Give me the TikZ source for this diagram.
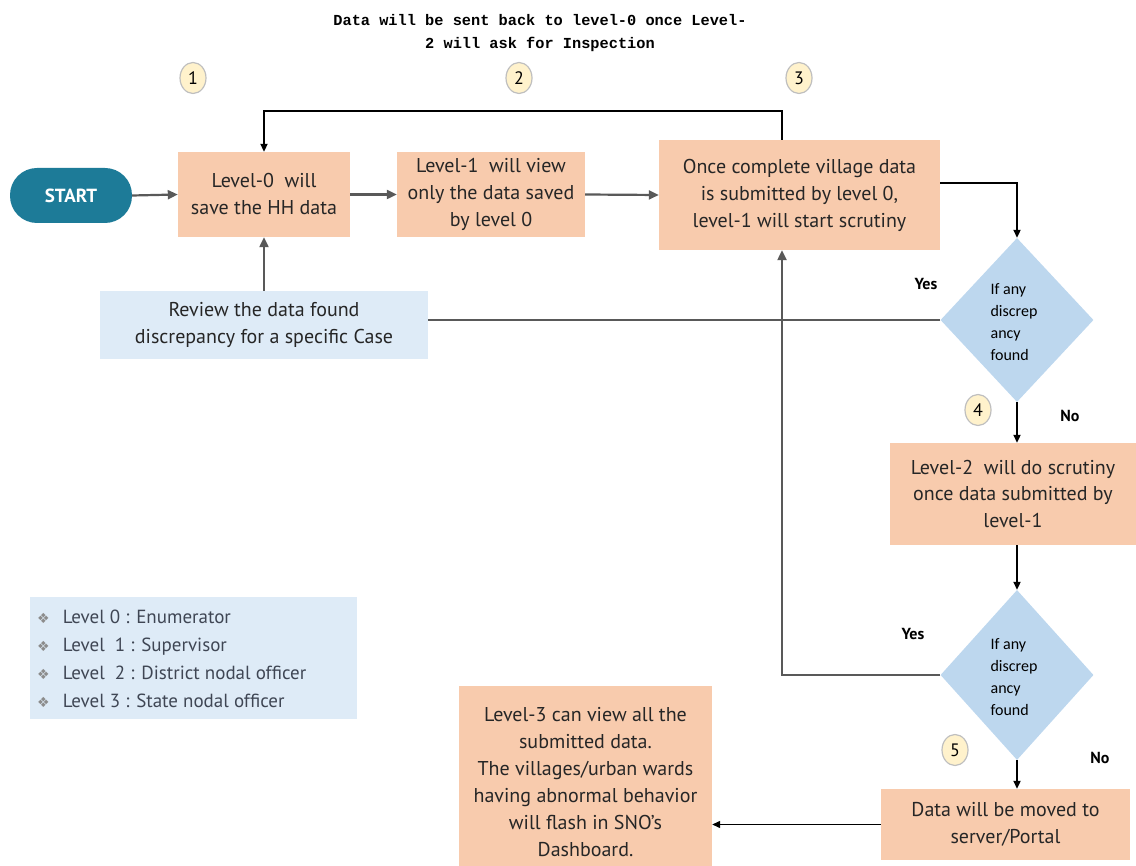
\documentclass[tikz,border=0pt]{standalone}
\usepackage{fontspec}
\setmainfont{PT Sans}
\newfontfamily\diafont{Carlito}
\newfontfamily\titlefont{Liberation Mono}
\newfontfamily\symfont{DejaVu Sans}
\usepackage{tikz}
\usetikzlibrary{shapes.geometric,arrows.meta}

\definecolor{peach}{HTML}{F8CBAD}
\definecolor{paleblue}{HTML}{DEEBF7}
\definecolor{diablue}{HTML}{BDD7EE}
\definecolor{startteal}{HTML}{1D7B98}
\definecolor{numyellow}{HTML}{FFF2CC}
\definecolor{linegray}{HTML}{595959}
\definecolor{legendtxt}{HTML}{3F4654}

\tikzset{
  stepbox/.style={fill=peach, inner sep=0pt, align=center, text=black!85,
    font=\fontsize{20}{27}\selectfont},
  notebox/.style={fill=paleblue, inner sep=0pt, align=center, text=black!85,
    font=\fontsize{20}{27}\selectfont},
  startnode/.style={fill=startteal, rounded corners=27pt, inner sep=0pt, text=white,
    font=\fontsize{19}{23}\selectfont\bfseries},
  decision/.style={diamond, fill=diablue, inner sep=0pt, aspect=0.93},
  diatext/.style={align=left, inner sep=0pt, font=\diafont\fontsize{16}{22}\selectfont},
  numc/.style={ellipse, fill=numyellow, draw=black!25, line width=1.2pt, inner sep=0pt,
    minimum width=26pt, minimum height=31pt, font=\fontsize{18}{18}\selectfont},
  yesno/.style={inner sep=0pt, font=\fontsize{16}{16}\selectfont\bfseries},
  arr/.style={draw=linegray, line width=2.2pt, -{Triangle[length=10pt,width=9pt]}},
  arrblk/.style={draw=black, line width=2pt, -{Triangle[length=8pt,width=7pt]}},
  plain/.style={draw=linegray, line width=2.2pt}
}
\newcommand{\legbul}{{\color{black!45}\symfont\fontsize{14}{14}\selectfont ❖}\hspace{13pt}}

\begin{document}
\begin{tikzpicture}[x=1pt,y=1pt,yscale=-1]
    \useasboundingbox (0,0) rectangle (1136,866);

    % Text Node
    \node (title) at (540,33) [align=center, inner sep=0pt,
      font=\titlefont\bfseries\fontsize{15.3}{23}\selectfont]
      {Data will be sent back to level-0 once Level-\\2 will ask for Inspection};

    % Numbers
    \node[numc] (n1) at (193,78) {1};
    \node[numc] (n2) at (519,78) {2};
    \node[numc] (n3) at (799,78) {3};
    \node[numc] (n4) at (978,410) {4};
    \node[numc] (n5) at (955,750) {5};

    % Shapes
    \node[startnode, minimum width=122pt, minimum height=55pt] (start) at (71,195.5) {START};
    \node[stepbox, minimum width=172pt, minimum height=85pt] (lvl0) at (264,194.5)
      {Level-0\ \ will\\save the HH data};
    \node[stepbox, minimum width=188pt, minimum height=85pt] (lvl1) at (491,194.5)
      {Level-1\ \ will view\\only the data saved\\by level 0};
    \node[stepbox, minimum width=281pt, minimum height=110pt] (scrut) at (799.5,195)
      {Once complete village data\\is submitted by level 0,\\level-1 will start scrutiny};
    \node[notebox, minimum width=328pt, minimum height=68pt] (review) at (264,325)
      {Review the data found\\discrepancy for a specific Case};
    \node[decision, minimum width=153pt, minimum height=164pt] (dia1) at (1017,320) {};
    \node[diatext] (dia1txt) at (1014,322) {If any\\discrep\\ancy\\found};
    \node[stepbox, minimum width=246pt, minimum height=102pt] (lvl2) at (1013,494)
      {Level-2\ \ will do scrutiny\\once data submitted by\\level-1};
    \node[decision, minimum width=153pt, minimum height=170pt] (dia2) at (1017,675) {};
    \node[diatext] (dia2txt) at (1014,677) {If any\\discrep\\ancy\\found};
    \node[stepbox, minimum width=249pt, minimum height=71pt] (server) at (1005.5,824.5)
      {Data will be moved to\\server/Portal};
    \node[stepbox, minimum width=253pt, minimum height=192pt] (lvl3) at (585.5,782)
      {Level-3 can view all the\\submitted data.\\The villages/urban wards\\having abnormal behavior\\will flash in SNO's\\Dashboard.};

    % Legend
    \node[fill=paleblue, minimum width=327pt, minimum height=122pt, inner sep=0pt] (legend) at (193.5,658) {};
    \node[anchor=west, align=left, inner sep=0pt, text=legendtxt,
      font=\fontsize{19}{28}\selectfont] (legendtxt) at (37,659)
      {\legbul Level 0 : Enumerator\\
       \legbul Level\ \ 1 : Supervisor\\
       \legbul Level\ \ 2 : District nodal officer\\
       \legbul Level 3 : State nodal officer};

    % Text Node
    \node[yesno] (yes1) at (926,284) {Yes};
    \node[yesno] (no1) at (1070,416) {No};
    \node[yesno] (yes2) at (913,634) {Yes};
    \node[yesno] (no2) at (1100,758) {No};

    \coordinate (loop) at (782,111);
    \coordinate (dia1turn) at (1017,183);

    %Straight Lines
    \draw[arr] (start.east) -- (lvl0.west);
    \draw[arr] (lvl0.east) -- (lvl1.west);
    \draw[arr] (lvl1.east) -- (scrut.west);
    \draw[arrblk] (scrut.north -| loop) -- (loop) -| (lvl0.north);
    \draw[arrblk] (scrut.east |- dia1turn) -| (dia1.north);
    \draw[plain] (dia1.west) -- (dia1.west -| review.east);
    \draw[arr] (review.north) -- (lvl0.south);
    \draw[arrblk] (dia1.south) -- (dia1.south |- lvl2.north);
    \draw[arrblk] (lvl2.south -| dia2.north) -- (dia2.north);
    \draw[arr] (dia2.west) -| (scrut.south -| loop);
    \draw[arrblk] (dia2.south) -- (dia2.south |- server.north);
    \draw[arrblk, line width=1.3pt] (server.west) -- (server.west -| lvl3.east);
\end{tikzpicture}
\end{document}
